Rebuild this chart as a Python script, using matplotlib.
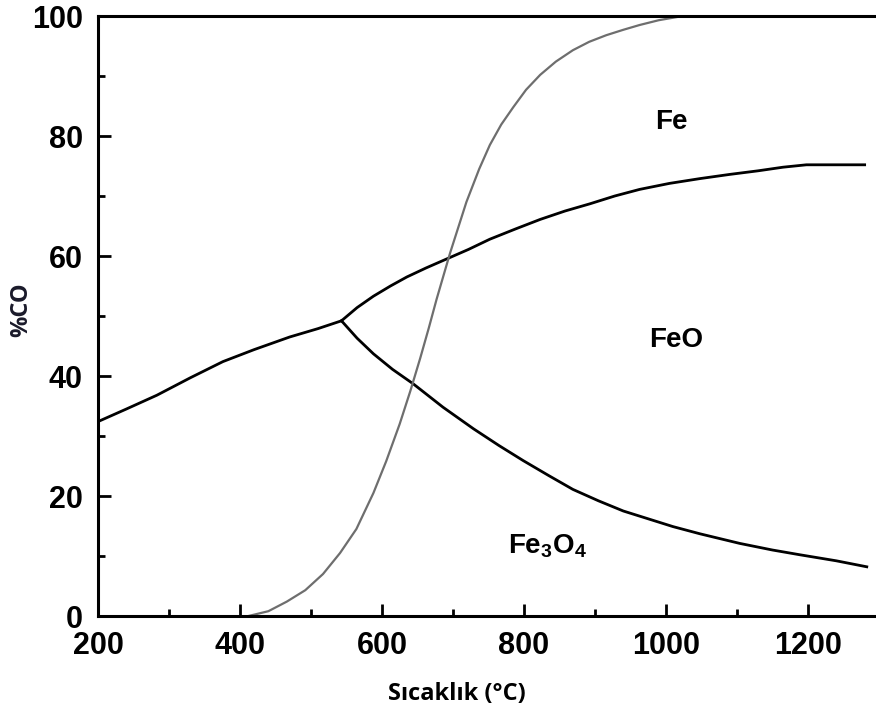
import matplotlib
matplotlib.use("Agg")
import matplotlib.pyplot as plt
from matplotlib.ticker import MultipleLocator

plt.rcParams['font.family'] = ['Liberation Sans', 'DejaVu Sans']
plt.rcParams['mathtext.fontset'] = 'custom'
plt.rcParams['mathtext.rm'] = 'Liberation Sans:bold'
plt.rcParams['mathtext.bf'] = 'Liberation Sans:bold'
plt.rcParams['mathtext.default'] = 'bf'

# Fe3O4 / Fe boundary below the triple point
t_low = [200, 240, 283, 330, 376, 420, 470, 510, 543]
co_low = [32.4, 34.5, 36.8, 39.7, 42.4, 44.4, 46.5, 47.9, 49.2]

# FeO / Fe boundary
t_feo_fe = [543, 565, 588, 612, 635, 662, 691, 722, 752, 788, 823, 858,
            893, 928, 963, 1005, 1048, 1090, 1130, 1165, 1198, 1240, 1280]
co_feo_fe = [49.2, 51.4, 53.3, 55.0, 56.5, 58.0, 59.5, 61.1, 62.8, 64.5, 66.1, 67.5,
             68.7, 70.0, 71.1, 72.1, 72.9, 73.6, 74.2, 74.8, 75.2, 75.2, 75.2]

# Fe3O4 / FeO boundary
t_fe3o4_feo = [543, 565, 588, 615, 644, 686, 729, 765, 799, 835, 869, 905,
               940, 975, 1010, 1048, 1104, 1150, 1189, 1240, 1283]
co_fe3o4_feo = [49.2, 46.3, 43.7, 41.1, 38.7, 34.8, 31.2, 28.4, 25.9, 23.4, 21.1, 19.2,
                17.5, 16.2, 14.9, 13.7, 12.1, 11.0, 10.2, 9.2, 8.2]

# Boudouard equilibrium (grey curve)
t_boud = [412, 440, 466, 492, 517, 541, 564, 588, 606, 625, 640, 654, 666, 677,
          696, 719, 737, 752, 768, 785, 803, 823, 845, 869, 892, 916, 940, 963, 990, 1024]
co_boud = [0.0, 0.8, 2.4, 4.3, 7.0, 10.5, 14.5, 20.5, 25.8, 32.0, 37.5, 43.0, 48.0, 52.8,
           60.5, 69.0, 74.5, 78.5, 81.9, 84.8, 87.7, 90.2, 92.4, 94.3, 95.7, 96.8, 97.7, 98.5, 99.3, 100.0]

x_ticks = [200, 400, 600, 800, 1000, 1200]
y_ticks = [0, 20, 40, 60, 80, 100]

fig = plt.figure(figsize=(8.76, 7.13), dpi=100)
ax = fig.add_axes([98/876, 1 - 616/713, 778/876, 600/713])

lw = 2.0
ax.plot(t_low, co_low, color='black', lw=lw, solid_joinstyle='round')
ax.plot(t_feo_fe, co_feo_fe, color='black', lw=lw, solid_joinstyle='round')
ax.plot(t_fe3o4_feo, co_fe3o4_feo, color='black', lw=lw, solid_joinstyle='round')
ax.plot(t_boud, co_boud, color='#6e6e6e', lw=1.6, solid_joinstyle='round')

ax.set_xlim(200, 1296)
ax.set_ylim(0, 100)
ax.set_xticks(x_ticks)
ax.set_yticks(y_ticks)
ax.xaxis.set_minor_locator(MultipleLocator(100))
ax.yaxis.set_minor_locator(MultipleLocator(10))

for s in ['left', 'bottom', 'top']:
    ax.spines[s].set_linewidth(2.2)
ax.spines['right'].set_visible(False)

ax.tick_params(which='major', direction='in', length=9, width=2.0,
               labelsize=22, pad=11, top=False, right=False)
ax.tick_params(which='minor', direction='in', length=5, width=2.0,
               top=False, right=False)
for lab in ax.get_xticklabels() + ax.get_yticklabels():
    lab.set_fontweight('bold')

ax.set_xlabel('Sıcaklık (°C)', fontsize=17, fontweight='bold',
              family=['Open Sans', 'DejaVu Sans'])
ax.xaxis.set_label_coords(0.461, -0.11)
ax.set_ylabel('%CO', fontsize=17, fontweight='bold',
              family=['Open Sans', 'DejaVu Sans'], color='#1a1a2a')
ax.yaxis.set_label_coords(-0.083, 0.51)

ax.text(1008, 82.3, 'Fe', fontsize=20, fontweight='bold', ha='center', va='center')
ax.text(1015, 46, 'FeO', fontsize=20, fontweight='bold', ha='center', va='center')
ax.text(777, 10.5, 'Fe$_3$O$_4$', fontsize=20, fontweight='bold', ha='left', va='baseline')

fig.savefig('out.png', dpi=100)
